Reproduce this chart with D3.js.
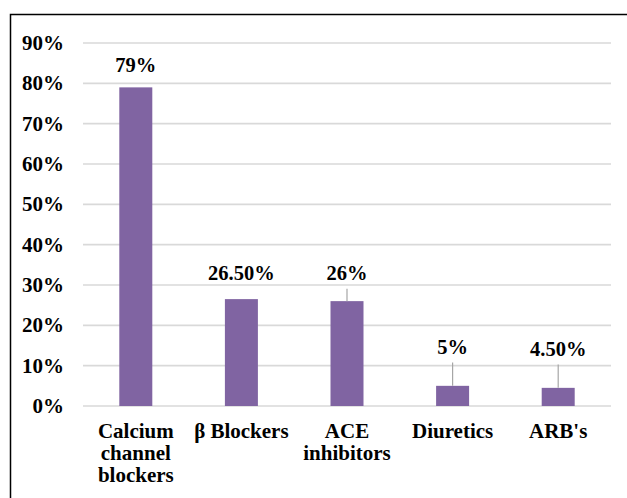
<!DOCTYPE html>
<html><head><meta charset="utf-8">
<script src="https://cdn.jsdelivr.net/npm/d3@7"></script>
<style>
body{margin:0;background:#fff}
#wrap{position:relative;width:627px;height:498px;overflow:hidden}
svg{display:block;position:absolute;left:0;top:0}
.lbl{position:absolute;font-family:"Liberation Serif","Times New Roman",serif;font-weight:bold;color:#000;white-space:nowrap;line-height:22px}
</style>
</head><body><div id="wrap"><svg id="c" width="627" height="498"></svg></div>
<script>
const categories = [["Calcium","channel","blockers"],["β Blockers"],["ACE","inhibitors"],["Diuretics"],["ARB's"]];
const values = [79, 26.5, 26, 5, 4.5];
const valueLabels = ["79%","26.50%","26%","5%","4.50%"];
const labelAt = [82.8, 31.2, 31.2, 12.9, 12.4]; // label baseline, in % units
const yTicks = [0,10,20,30,40,50,60,70,80,90];

(function(){
const svg = d3.select("#c");
const wrap = d3.select("#wrap");
const pLeft = 83, pRight = 611, pTop = 43, pBottom = 406;
const x = d3.scaleBand().domain(d3.range(values.length)).range([pLeft, pRight]).paddingInner(0.6875).paddingOuter(0.34375);
const y = d3.scaleLinear().domain([0, 90]).range([pBottom, pTop]);
const LH = 22;
function addText(px, baseline, lines, anchor, size){
  const off = LH/2 + 0.3375*size;
  const tx = anchor==="end" ? "-100%" : anchor==="middle" ? "-50%" : "0";
  wrap.append("div").attr("class","lbl")
    .style("left",px+"px").style("top",(baseline-off)+"px")
    .style("font-size",size+"px").style("text-align",anchor==="end"?"right":"center")
    .style("transform",`translateX(${tx})`)
    .html(lines.map(s=>s.replace(/&/g,"&amp;").replace(/</g,"&lt;")).join("<br>"));
}

svg.append("rect").attr("x",10.5).attr("y",14.5).attr("width",700).attr("height",600)
  .attr("fill","none").attr("stroke","#000").attr("stroke-width",1.5);

svg.append("g").selectAll("line").data(yTicks).join("line")
  .attr("x1",pLeft).attr("x2",pRight).attr("y1",d=>y(d)).attr("y2",d=>y(d))
  .attr("stroke","#d9d9d9").attr("stroke-width",1.6);

yTicks.forEach(d=>addText(64, y(d)+7, [d+"%"], "end", 21));

svg.append("g").selectAll("rect").data(values).join("rect")
  .attr("x",(d,i)=>x(i)).attr("width",x.bandwidth())
  .attr("y",d=>y(d)).attr("height",d=>pBottom-y(d)).attr("fill","#8064a2");

const cx = i => x(i)+x.bandwidth()/2;
const lg = svg.append("g");
values.forEach((d,i)=>{
  if (y(d)-y(labelAt[i])>20) lg.append("line")
    .attr("x1",cx(i)).attr("x2",cx(i)).attr("y1",y(labelAt[i])+8.5).attr("y2",y(d))
    .attr("stroke","#a6a6a6").attr("stroke-width",1.2);
});

valueLabels.forEach((s,i)=>addText(cx(i), y(labelAt[i]), [s], "middle", 20.5));
categories.forEach((lines,i)=>addText(cx(i), 438, lines, "middle", 21));
})();
</script></body></html>
